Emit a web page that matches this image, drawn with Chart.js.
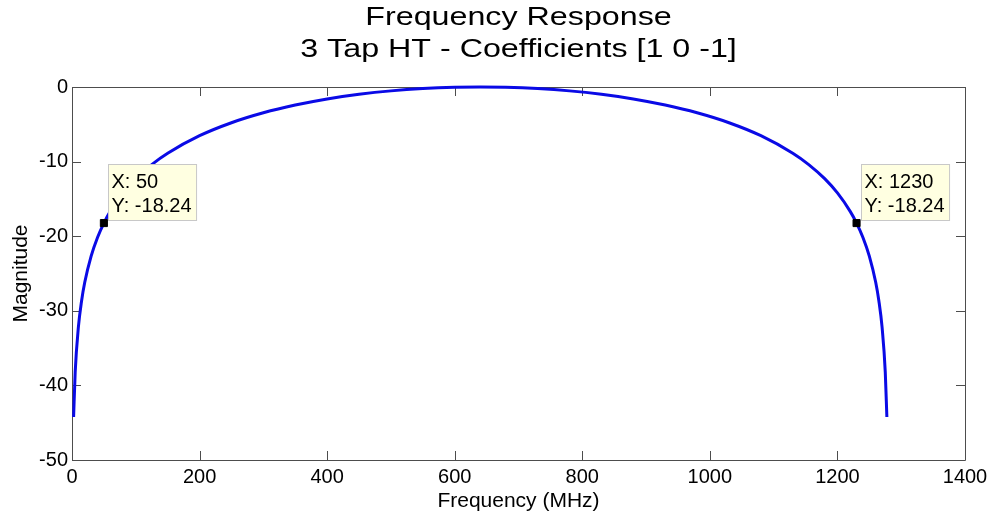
<!DOCTYPE html>
<html>
<head>
<meta charset="utf-8">
<script src="https://cdn.jsdelivr.net/npm/chart.js@4.4.1/dist/chart.umd.min.js"></script>
<style>
  html, body { margin: 0; padding: 0; background: #fff; }
  #wrap { width: 995px; height: 516px; }
</style>
</head>
<body>
<div id="wrap"><canvas id="chartContainer"></canvas></div>
<script>
// magnitude response, dB vs MHz
const freqMHz = [2.5, 5, 10, 15, 20, 30, 40, 50, 60, 80,
  100, 125, 150, 200, 250, 300, 350, 400, 450, 500,
  550, 600, 640, 680, 730, 780, 830, 880, 930, 980,
  1030, 1080, 1130, 1155, 1180, 1200, 1220, 1230, 1240, 1250,
  1260, 1265, 1270, 1275, 1277.5];
const magnitudeDb = [-44.24, -38.22, -32.20, -28.68, -26.18, -22.67, -20.17, -18.24, -16.67, -14.20,
  -12.29, -10.40, -8.88, -6.53, -4.79, -3.46, -2.42, -1.60, -0.98, -0.52,
  -0.21, -0.04, 0, -0.04, -0.21, -0.52, -0.98, -1.60, -2.42, -3.46,
  -4.79, -6.53, -8.88, -10.40, -12.29, -14.20, -16.67, -18.24, -20.17, -22.67,
  -26.18, -28.68, -32.20, -38.22, -44.24];

// data tips
const tipX = [50, 1230];
const tipY = [-18.24, -18.24];

const titleLines = ['Frequency Response', '3 Tap HT - Coefficients [1 0 -1]'];
const xTitle = 'Frequency (MHz)';
const yTitle = 'Magnitude';

const FONT = '"Liberation Sans", Arial, sans-serif';
const AXIS_COLOR = '#4d4d4d';

// stretched two-line title, MATLAB style
const titlePlugin = {
  id: 'matTitle',
  afterDraw(chart) {
    const ctx = chart.ctx;
    const a = chart.chartArea;
    const cx = (a.left + a.right) / 2;
    ctx.save();
    ctx.fillStyle = '#000';
    ctx.font = '26px ' + FONT;
    ctx.textAlign = 'center';
    ctx.textBaseline = 'alphabetic';
    const baselines = [25, 57];
    titleLines.forEach((t, i) => {
      ctx.save();
      ctx.translate(cx, baselines[i]);
      ctx.scale(1.24, 1);
      ctx.fillText(t, 0, 0);
      ctx.restore();
    });
    ctx.restore();
  }
};

// box around the axes with inward ticks on all four sides
const framePlugin = {
  id: 'frame',
  beforeDatasetsDraw(chart) {
    const ctx = chart.ctx;
    const a = chart.chartArea;
    const xs = chart.scales.x, ys = chart.scales.y;
    const len = 9;
    ctx.save();
    ctx.strokeStyle = AXIS_COLOR;
    ctx.lineWidth = 1;
    ctx.beginPath();
    ctx.rect(Math.round(a.left) + 0.5, Math.round(a.top) + 0.5,
      Math.round(a.right - a.left), Math.round(a.bottom - a.top));
    xs.ticks.forEach(t => {
      const px = Math.round(xs.getPixelForValue(t.value)) + 0.5;
      ctx.moveTo(px, a.bottom); ctx.lineTo(px, a.bottom - len);
      ctx.moveTo(px, a.top); ctx.lineTo(px, a.top + len);
    });
    ys.ticks.forEach(t => {
      const py = Math.round(ys.getPixelForValue(t.value)) + 0.5;
      ctx.moveTo(a.left, py); ctx.lineTo(a.left + len, py);
      ctx.moveTo(a.right, py); ctx.lineTo(a.right - len, py);
    });
    ctx.stroke();
    ctx.restore();
  }
};

// data tip boxes next to the marked points
const tipPlugin = {
  id: 'tips',
  afterDatasetsDraw(chart) {
    const ctx = chart.ctx;
    const xs = chart.scales.x, ys = chart.scales.y;
    ctx.save();
    ctx.font = '20px ' + FONT;
    ctx.textBaseline = 'alphabetic';
    ctx.textAlign = 'left';
    tipX.forEach((x, i) => {
      const px = xs.getPixelForValue(x);
      const py = ys.getPixelForValue(tipY[i]);
      const lines = ['X: ' + x, 'Y: ' + tipY[i].toFixed(2)];
      const w = Math.max(...lines.map(l => ctx.measureText(l).width)) + 8;
      const bx = Math.round(px + 4) + 0.5;
      const by = Math.round(py - 59) + 0.5;
      ctx.fillStyle = '#ffffe1';
      ctx.strokeStyle = '#c8c8c8';
      ctx.lineWidth = 1;
      ctx.fillRect(bx, by, w, 56);
      ctx.strokeRect(bx, by, w, 56);
      ctx.fillStyle = '#000';
      ctx.fillText(lines[0], bx + 3, by + 23);
      ctx.fillText(lines[1], bx + 3, by + 47);
    });
    ctx.restore();
  }
};

const curve = freqMHz.map((f, i) => ({ x: f, y: magnitudeDb[i] }));
const tipPoints = tipX.map((x, i) => ({ x: x, y: tipY[i] }));

const ctx = document.getElementById('chartContainer').getContext('2d');
const chart = new Chart(ctx, {
  type: 'line',
  data: {
    datasets: [
      {
        data: tipPoints,
        showLine: false,
        pointStyle: 'rect',
        pointRadius: 5,
        backgroundColor: '#000',
        borderColor: '#000',
        borderWidth: 1,
        clip: false,
        order: 0
      },
      {
        data: curve,
        borderColor: '#0a0ae6',
        borderWidth: 3,
        pointRadius: 0,
        tension: 0.4,
        cubicInterpolationMode: 'monotone',
        fill: false,
        clip: false,
        order: 1
      }
    ]
  },
  options: {
    responsive: true,
    maintainAspectRatio: false,
    animation: false,
    layout: { padding: { top: 87, right: 30, left: 0, bottom: 0 } },
    plugins: {
      legend: { display: false },
      tooltip: { enabled: false },
      title: { display: false }
    },
    scales: {
      x: {
        type: 'linear',
        min: 0,
        max: 1400,
        ticks: { stepSize: 200, color: '#000', padding: 5, maxRotation: 0,
          callback: v => String(v),
          font: { family: FONT, size: 20 } },
        grid: { display: false, drawTicks: false },
        border: { display: false },
        title: { display: true, text: xTitle, color: '#000', padding: { top: 0, bottom: 2 },
          font: { family: FONT, size: 21 } },
        afterFit(scale) { scale.height = 56; }
      },
      y: {
        type: 'linear',
        min: -50,
        max: 0,
        ticks: { stepSize: 10, color: '#000', padding: 4,
          callback: v => String(v),
          font: { family: FONT, size: 20 } },
        grid: { display: false, drawTicks: false },
        border: { display: false },
        title: { display: true, text: yTitle, color: '#000', padding: { top: 9, bottom: 0 },
          font: { family: FONT, size: 21 } },
        afterFit(scale) { scale.width = 72; }
      }
    }
  },
  plugins: [framePlugin, tipPlugin, titlePlugin]
});
</script>
</body>
</html>
